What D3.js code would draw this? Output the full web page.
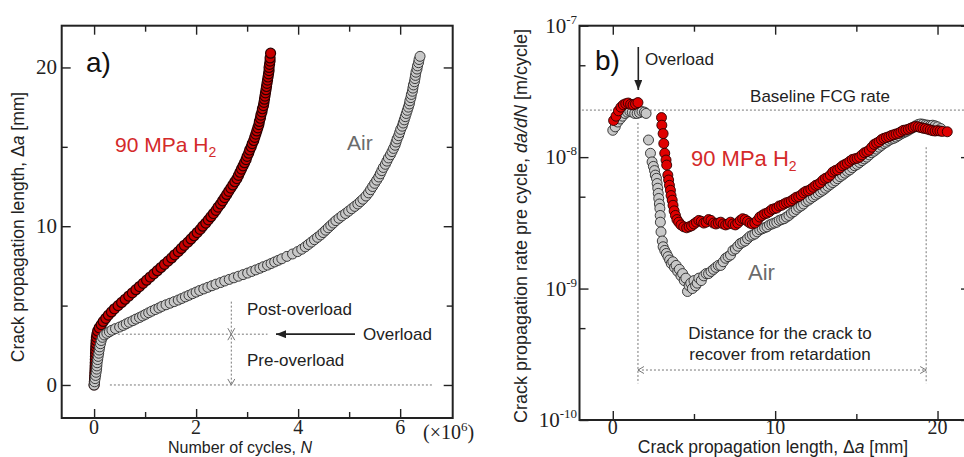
<!DOCTYPE html>
<html>
<head>
<meta charset="utf-8">
<script src="https://cdn.jsdelivr.net/npm/d3@7"></script>
<style>body{margin:0;background:#fff}svg{display:block}</style>
</head>
<body>
<svg id="chart" width="964" height="457"></svg>
<script>
// panel a: [crack length Δa (mm), cycles N (x10^6)]
const h2CurveA = [[0,0],[0.2,0.005],[0.4,0.01],[0.6,0.012],[0.8,0.015],[1.0,0.018],[1.2,0.02],[1.4,0.022],[1.6,0.024],[1.8,0.026],[2.0,0.028],[2.2,0.03],[2.4,0.033],[2.6,0.036],[2.8,0.04],[3.0,0.045],[3.2,0.055],[3.4,0.07],[3.6,0.1],[3.8,0.14],[4.0,0.18],[4.2,0.23],[4.4,0.28],[4.6,0.34],[4.8,0.4],[5.0,0.47],[5.2,0.54],[5.4,0.61],[5.6,0.68],[5.8,0.75],[6.0,0.82],[6.2,0.89],[6.4,0.96],[6.6,1.03],[6.8,1.1],[7.0,1.17],[7.2,1.24],[7.4,1.31],[7.6,1.38],[7.8,1.45],[8.0,1.52],[8.2,1.58],[8.4,1.65],[8.6,1.71],[8.8,1.77],[9.0,1.84],[9.2,1.9],[9.4,1.96],[9.6,2.02],[9.8,2.08],[10.0,2.13],[10.2,2.19],[10.4,2.24],[10.6,2.29],[10.8,2.34],[11.0,2.39],[11.2,2.43],[11.4,2.48],[11.6,2.52],[11.8,2.56],[12.0,2.6],[12.2,2.64],[12.4,2.68],[12.6,2.72],[12.8,2.76],[13.0,2.8],[13.2,2.83],[13.4,2.86],[13.6,2.89],[13.8,2.92],[14.0,2.95],[14.2,2.98],[14.4,3.0],[14.6,3.03],[14.8,3.05],[15.0,3.08],[15.2,3.1],[15.4,3.13],[15.6,3.15],[15.8,3.17],[16.0,3.19],[16.2,3.21],[16.4,3.23],[16.6,3.24],[16.8,3.26],[17.0,3.27],[17.2,3.29],[17.4,3.3],[17.6,3.32],[17.8,3.33],[18.0,3.34],[18.2,3.35],[18.4,3.36],[18.6,3.37],[18.8,3.38],[19.0,3.39],[19.2,3.4],[19.4,3.41],[19.6,3.42],[19.8,3.43],[20.0,3.43],[20.2,3.44],[20.4,3.45],[20.6,3.45],[20.9,3.46]];
const airCurveA = [[0,0],[0.2,0.01],[0.4,0.02],[0.6,0.03],[0.8,0.04],[1.0,0.05],[1.2,0.055],[1.4,0.06],[1.6,0.07],[1.8,0.08],[2.0,0.09],[2.2,0.1],[2.4,0.11],[2.6,0.125],[2.8,0.14],[3.0,0.165],[3.15,0.2],[3.25,0.25],[3.35,0.3],[3.45,0.35],[3.55,0.42],[3.65,0.5],[3.75,0.57],[3.85,0.63],[3.95,0.69],[4.05,0.76],[4.15,0.82],[4.25,0.89],[4.35,0.95],[4.45,1.01],[4.55,1.07],[4.65,1.13],[4.75,1.2],[4.85,1.27],[4.95,1.33],[5.05,1.41],[5.15,1.49],[5.25,1.57],[5.35,1.65],[5.45,1.72],[5.55,1.79],[5.65,1.86],[5.75,1.93],[5.85,2.0],[5.95,2.07],[6.05,2.15],[6.15,2.23],[6.25,2.31],[6.35,2.39],[6.45,2.48],[6.55,2.56],[6.65,2.65],[6.75,2.74],[6.85,2.83],[6.95,2.92],[7.05,3.01],[7.15,3.09],[7.25,3.17],[7.35,3.25],[7.45,3.32],[7.55,3.4],[7.65,3.47],[7.75,3.54],[7.85,3.61],[7.95,3.68],[8.1,3.78],[8.25,3.89],[8.4,3.99],[8.55,4.07],[8.7,4.14],[8.85,4.2],[9.0,4.26],[9.15,4.32],[9.3,4.38],[9.45,4.44],[9.6,4.49],[9.75,4.54],[9.9,4.59],[10.05,4.64],[10.2,4.69],[10.35,4.74],[10.5,4.8],[10.65,4.86],[10.8,4.93],[10.95,4.99],[11.1,5.05],[11.25,5.11],[11.4,5.17],[11.55,5.22],[11.7,5.27],[11.9,5.33],[12.1,5.38],[12.3,5.42],[12.5,5.46],[12.7,5.5],[12.9,5.54],[13.1,5.58],[13.3,5.61],[13.5,5.64],[13.7,5.67],[13.9,5.71],[14.1,5.74],[14.3,5.77],[14.5,5.81],[14.7,5.84],[14.9,5.87],[15.1,5.9],[15.3,5.92],[15.5,5.94],[15.7,5.97],[15.9,5.99],[16.1,6.01],[16.3,6.04],[16.5,6.06],[16.7,6.08],[16.9,6.1],[17.1,6.12],[17.3,6.14],[17.5,6.16],[17.7,6.18],[17.9,6.19],[18.1,6.21],[18.3,6.22],[18.5,6.24],[18.7,6.25],[18.9,6.26],[19.1,6.28],[19.3,6.29],[19.5,6.3],[19.7,6.31],[19.9,6.33],[20.1,6.34],[20.3,6.36],[20.5,6.37],[20.7,6.39]];

// panel b: [crack length Δa (mm), da/dN (x10^-9 m/cycle)]
const h2RateB = [[0.05,19],[0.2,20.5],[0.35,22.5],[0.5,24],[0.65,25],[0.8,25.5],[0.95,25.8],[1.1,25.2],[1.25,25],[1.4,25.4],[1.55,26],[3.0,20],[3.02,17.5],[3.1,15.1],[3.14,12.7],[3.2,10.7],[3.28,9.5],[3.32,8.7],[3.39,7.3],[3.44,6.7],[3.49,6.1],[3.55,5.6],[3.59,5.1],[3.66,4.7],[3.71,4.3],[3.78,3.9],[3.86,3.6],[3.95,3.35],[4.06,3.2],[4.2,3.05],[4.37,2.95],[4.55,2.9],[4.7,2.95],[4.85,3.0],[5.0,3.1],[5.15,3.2],[5.3,3.3],[5.45,3.25],[5.6,3.15],[5.75,3.2],[5.9,3.35],[6.05,3.3],[6.2,3.15],[6.35,3.1],[6.5,3.15],[6.65,3.2],[6.8,3.1],[6.95,3.05],[7.1,3.1],[7.25,3.2],[7.4,3.1],[7.55,3.05],[7.7,3.15],[7.85,3.3],[8.0,3.4],[8.15,3.35],[8.3,3.25],[8.45,3.15],[8.6,3.1],[8.75,3.15],[8.9,3.3],[9.05,3.5],[9.2,3.6],[9.35,3.7],[9.5,3.75],[9.65,3.85],[9.8,4.0],[9.95,4.05],[10.1,4.1],[10.25,4.25],[10.4,4.3],[10.55,4.4],[10.7,4.5],[10.85,4.55],[11.0,4.65],[11.15,4.8],[11.3,4.95],[11.45,5.0],[11.6,5.15],[11.75,5.35],[11.9,5.5],[12.05,5.55],[12.2,5.7],[12.35,5.9],[12.5,6.1],[12.65,6.2],[12.8,6.4],[12.95,6.7],[13.1,6.9],[13.25,7.0],[13.4,7.3],[13.55,7.7],[13.7,7.9],[13.85,8.0],[14.0,8.3],[14.15,8.6],[14.3,8.8],[14.45,9.0],[14.6,9.3],[14.75,9.6],[14.9,9.7],[15.05,9.8],[15.2,10.0],[15.35,10.4],[15.5,10.8],[15.65,11.0],[15.8,11.3],[15.95,11.9],[16.1,12.5],[16.25,12.8],[16.4,13.1],[16.55,13.6],[16.7,13.9],[16.85,14.1],[17.0,14.3],[17.15,14.6],[17.3,14.8],[17.45,15.0],[17.6,15.2],[17.75,15.6],[17.9,16.0],[18.05,16.1],[18.2,16.3],[18.35,16.6],[18.5,16.9],[18.65,17.1],[18.8,17.0],[18.95,16.8],[19.1,16.6],[19.25,16.5],[19.4,16.3],[19.55,16.1],[19.7,15.9],[19.85,15.8],[20.0,15.9],[20.15,15.8],[20.3,15.7],[20.6,15.6]];
const airRateB = [[0,16],[0.15,17],[0.3,18.5],[0.45,19.5],[0.6,20.5],[0.75,21.5],[0.9,22],[1.05,22.3],[1.2,22],[1.35,21.5],[1.5,21.5],[1.65,21.8],[1.8,22.2],[1.95,22],[2.05,21.5],[2.2,13.5],[2.32,10.7],[2.42,9.2],[2.5,8.5],[2.57,7.9],[2.62,7.3],[2.69,6.9],[2.73,6.3],[2.77,5.8],[2.8,5.3],[2.83,4.85],[2.87,4.4],[2.9,4.07],[2.92,3.6],[2.93,3.2],[2.97,2.7],[3.05,2.3],[3.1,2.08],[3.2,1.95],[3.3,1.85],[3.4,1.75],[3.5,1.65],[3.6,1.55],[3.7,1.6],[3.8,1.45],[3.9,1.5],[4.0,1.35],[4.1,1.4],[4.2,1.25],[4.3,1.3],[4.4,1.15],[4.5,1.2],[4.6,0.95],[4.7,1.05],[4.8,1.1],[4.9,1.0],[5.0,1.15],[5.1,1.05],[5.2,1.1],[5.3,1.2],[5.45,1.15],[5.6,1.25],[5.75,1.3],[5.9,1.3],[6.05,1.35],[6.2,1.4],[6.35,1.45],[6.5,1.5],[6.65,1.5],[6.8,1.6],[6.95,1.7],[7.1,1.75],[7.25,1.8],[7.4,1.95],[7.55,2.0],[7.7,2.1],[7.85,2.2],[8.0,2.25],[8.15,2.3],[8.3,2.4],[8.45,2.5],[8.6,2.55],[8.75,2.6],[8.9,2.7],[9.05,2.8],[9.2,2.85],[9.35,2.9],[9.5,2.95],[9.65,3.05],[9.8,3.1],[9.95,3.15],[10.1,3.2],[10.25,3.3],[10.4,3.35],[10.55,3.4],[10.7,3.5],[10.85,3.6],[11.0,3.75],[11.15,3.85],[11.3,4.0],[11.45,4.15],[11.6,4.25],[11.75,4.4],[11.9,4.6],[12.05,4.7],[12.2,4.85],[12.35,5.0],[12.5,5.15],[12.65,5.3],[12.8,5.45],[12.95,5.6],[13.1,5.8],[13.25,6.0],[13.4,6.2],[13.55,6.4],[13.7,6.6],[13.85,6.85],[14.0,7.1],[14.15,7.3],[14.3,7.55],[14.45,7.8],[14.6,8.0],[14.75,8.3],[14.9,8.6],[15.05,8.8],[15.2,9.1],[15.35,9.4],[15.5,9.7],[15.65,10.0],[15.8,10.4],[15.95,10.8],[16.1,11.1],[16.25,11.5],[16.4,11.9],[16.55,12.3],[16.7,12.7],[16.85,13.0],[17.0,13.4],[17.15,13.7],[17.3,13.9],[17.45,14.2],[17.6,14.6],[17.75,15.0],[17.9,15.3],[18.05,15.6],[18.2,16.0],[18.35,16.4],[18.5,16.8],[18.65,17.3],[18.8,17.7],[18.95,17.9],[19.1,17.8],[19.25,17.6],[19.4,17.5],[19.55,17.4],[19.7,17.5],[19.85,17.3],[20.0,17.0],[20.2,16.5]];

const cycleTicks = [0, 2, 4, 6];
const cycleMinor = [1, 3, 5];
const lengthTicksA = [0, 10, 20];
const lengthMinorA = [5, 15];
const lengthTicksB = [0, 10, 20];
const lengthMinorB = [5, 15];
const rateExponents = [-7, -8, -9, -10];
const rateMinor = [5e-8, 5e-9, 5e-10];
const overloadLength = 3.2;       // mm, panel a
const overloadPosB = 1.55;        // mm, panel b
const recoveredPosB = 19.3;       // mm, panel b
const baselineRate = 2.28e-8;     // m/cycle

const SANS = "'Liberation Sans', Arial, sans-serif";
const SERIF = "'Liberation Serif', 'Times New Roman', 'DejaVu Serif', serif";
const INK = '#222';
const DOT = '#777';

const svg = d3.select('#chart');
svg.append('rect').attr('width', 964).attr('height', 457).attr('fill', '#fff');
const defs = svg.append('defs');
defs.append('marker').attr('id', 'head').attr('viewBox', '0 0 10 8').attr('refX', 10).attr('refY', 4)
  .attr('markerWidth', 10).attr('markerHeight', 8).attr('markerUnits', 'userSpaceOnUse').attr('orient', 'auto')
  .append('path').attr('d', 'M0,0L10,4L0,8z').attr('fill', INK);

const xA = d3.scaleLinear().domain([-0.635, 7.03]).range([61.7, 452.7]);
const yA = d3.scaleLinear().domain([-2.08, 22.63]).range([418, 25.7]);
const xB = d3.scaleLinear().domain([-2.05, 22]).range([579.5, 970]);
const yB = d3.scaleLog().domain([1e-10, 1e-7]).range([420, 25.7]);

function drawTicks(g, x, y, xMaj, xMin, yMaj, yMin) {
  const [xl, xr] = x.range(), [yb, yt] = y.range();
  const put = (axis, t) => g.append('g').attr('transform', t).call(axis)
    .call(s => s.select('.domain').remove())
    .call(s => s.selectAll('line').attr('stroke', INK).attr('stroke-width', 1.4));
  put(d3.axisBottom(x).tickValues(xMaj).tickSize(-9).tickFormat(''), `translate(0,${yb})`);
  put(d3.axisBottom(x).tickValues(xMin).tickSize(-6).tickFormat(''), `translate(0,${yb})`);
  put(d3.axisTop(x).tickValues(xMaj).tickSize(-9).tickFormat(''), `translate(0,${yt})`);
  put(d3.axisTop(x).tickValues(xMin).tickSize(-6).tickFormat(''), `translate(0,${yt})`);
  put(d3.axisLeft(y).tickValues(yMaj).tickSize(-9).tickFormat(''), `translate(${xl},0)`);
  put(d3.axisLeft(y).tickValues(yMin).tickSize(-6).tickFormat(''), `translate(${xl},0)`);
  put(d3.axisRight(y).tickValues(yMaj).tickSize(-9).tickFormat(''), `translate(${xr},0)`);
  put(d3.axisRight(y).tickValues(yMin).tickSize(-6).tickFormat(''), `translate(${xr},0)`);
  g.append('rect').attr('x', xl).attr('y', yt).attr('width', xr - xl).attr('height', yb - yt)
    .attr('fill', 'none').attr('stroke', INK).attr('stroke-width', 2);
}

function dots(g, data, cx, cy, fill, stroke, sw) {
  g.append('g').selectAll('circle').data(data).join('circle')
    .attr('cx', cx).attr('cy', cy).attr('r', 5)
    .attr('fill', fill).attr('stroke', stroke).attr('stroke-width', sw);
}

function dotted(g, x1, y1, x2, y2) {
  g.append('line').attr('x1', x1).attr('y1', y1).attr('x2', x2).attr('y2', y2)
    .attr('stroke', DOT).attr('stroke-width', 1).attr('stroke-dasharray', '2,2');
}

// open chevron at (x, y) pointing in direction (dx, dy)
function chevron(g, x, y, dx, dy) {
  const px = -dy, py = dx;
  g.append('path').attr('d', `M${x - dx * 6 + px * 3.5},${y - dy * 6 + py * 3.5}L${x},${y}L${x - dx * 6 - px * 3.5},${y - dy * 6 - py * 3.5}`)
    .attr('fill', 'none').attr('stroke', DOT).attr('stroke-width', 1);
}

function text(g, x, y, str, opts = {}) {
  return g.append('text').attr('x', x).attr('y', y).text(str)
    .style('font-family', opts.family || SANS).attr('font-size', opts.size || 17)
    .attr('fill', opts.fill || INK).attr('text-anchor', opts.anchor || 'start');
}

// ---------- panel a ----------
const gA = svg.append('g');
drawTicks(gA, xA, yA, cycleTicks, cycleMinor, lengthTicksA, lengthMinorA);
lengthTicksA.forEach(v => text(gA, 57, yA(v) + 7, v, { family: SERIF, size: 21, anchor: 'end' }));
cycleTicks.forEach(v => text(gA, xA(v), 434, v, { family: SERIF, size: 20, anchor: 'middle' }));
const mult = text(gA, 423, 439, '(×10', { family: SERIF, size: 20 });
mult.append('tspan').attr('dy', -8).attr('font-size', 13).text('6');
mult.append('tspan').attr('dy', 8).text(')');

const xtA = text(gA, 240, 453, 'Number of cycles, ', { anchor: 'middle', size: 16 });
xtA.append('tspan').attr('font-style', 'italic').text('N');
const ytA = text(gA, 0, 0, 'Crack propagation length, Δ', { anchor: 'middle', size: 17.5 }).attr('transform', 'translate(24,227) rotate(-90)');
ytA.append('tspan').attr('font-style', 'italic').text('a');
ytA.append('tspan').text(' [mm]');

// overload annotations
const nMark = 2.69;
dotted(gA, xA(0.31), yA(overloadLength), xA(3.4), yA(overloadLength));
dotted(gA, xA(0.31), yA(0), xA(6.64), yA(0));
dotted(gA, xA(nMark), yA(5.25), xA(nMark), yA(0));
chevron(gA, xA(nMark), yA(overloadLength), 0, 1);
chevron(gA, xA(nMark), yA(overloadLength), 0, -1);
chevron(gA, xA(nMark), yA(0), 0, 1);
gA.append('line').attr('x1', 355).attr('y1', yA(overloadLength)).attr('x2', 276).attr('y2', yA(overloadLength))
  .attr('stroke', INK).attr('stroke-width', 1.6).attr('marker-end', 'url(#head)');
text(gA, 247, 315, 'Post-overload');
text(gA, 247, 366, 'Pre-overload');
text(gA, 363, 340, 'Overload');

dots(gA, h2CurveA, d => xA(d[1]), d => yA(d[0]), '#c80000', '#2a0000', 1.2);
dots(gA, airCurveA, d => xA(d[1]), d => yA(d[0]), '#c8c8c8', '#2a2a2a', 0.9);

text(gA, 86, 72, 'a)', { size: 28, fill: '#111' });
const h2a = text(gA, 115, 152, '90 MPa H', { size: 21, fill: '#d42a2a' });
h2a.append('tspan').attr('dy', 5).attr('font-size', 14).text('2');
text(gA, 347, 150, 'Air', { size: 21, fill: '#6b6b6b' });

// ---------- panel b ----------
const gB = svg.append('g');
drawTicks(gB, xB, yB, lengthTicksB, lengthMinorB, rateExponents.map(e => Math.pow(10, e)), rateMinor);
rateExponents.forEach(e => {
  const t = text(gB, 577, yB(Math.pow(10, e)) + 7, '10', { family: SERIF, size: 21, anchor: 'end' });
  t.append('tspan').attr('dy', -9).attr('font-size', 13).text(String(e));
});
lengthTicksB.forEach(v => text(gB, xB(v), 434, v, { family: SERIF, size: 20, anchor: 'middle' }));

const xtB = text(gB, 773, 453, 'Crack propagation length, Δ', { anchor: 'middle', size: 17.5 });
xtB.append('tspan').attr('font-style', 'italic').text('a');
xtB.append('tspan').text(' [mm]');
const ytB = text(gB, 0, 0, 'Crack propagation rate pre cycle, ', { anchor: 'middle', size: 18 }).attr('transform', 'translate(527,226) rotate(-90)');
ytB.append('tspan').attr('font-style', 'italic').text('da/dN');
ytB.append('tspan').text(' [m/cycle]');

// baseline, retardation distance
dotted(gB, xB(-1.9), yB(baselineRate), 964, yB(baselineRate));
dotted(gB, xB(overloadPosB), yB(1.82e-8), xB(overloadPosB), yB(1.9e-10));
dotted(gB, xB(recoveredPosB), yB(1.19e-8), xB(recoveredPosB), yB(1.9e-10));
dotted(gB, xB(overloadPosB), yB(2.4e-10), xB(recoveredPosB), yB(2.4e-10));
chevron(gB, xB(overloadPosB), yB(2.4e-10), -1, 0);
chevron(gB, xB(recoveredPosB), yB(2.4e-10), 1, 0);
text(gB, 820, 102, 'Baseline FCG rate', { anchor: 'middle' });
text(gB, 780, 339, 'Distance for the crack to', { anchor: 'middle' });
text(gB, 780, 360, 'recover from retardation', { anchor: 'middle' });
gB.append('line').attr('x1', 638.3).attr('y1', 47).attr('x2', 638.3).attr('y2', 90)
  .attr('stroke', INK).attr('stroke-width', 1.6).attr('marker-end', 'url(#head)');
text(gB, 645, 65, 'Overload');

dots(gB, airRateB, d => xB(d[0]), d => yB(d[1] * 1e-9), '#c8c8c8', '#2a2a2a', 0.9);
dots(gB, h2RateB, d => xB(d[0]), d => yB(d[1] * 1e-9), '#e00000', '#2a0000', 0.9);

text(gB, 595, 70, 'b)', { size: 28, fill: '#111' });
const h2b = text(gB, 691, 166, '90 MPa H', { size: 22, fill: '#d42a2a' });
h2b.append('tspan').attr('dy', 5).attr('font-size', 14).text('2');
text(gB, 748, 280, 'Air', { size: 22, fill: '#6b6b6b' });
</script>
</body>
</html>
